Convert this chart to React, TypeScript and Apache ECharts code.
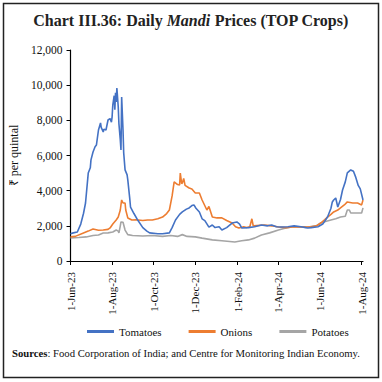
import React, { useEffect, useRef } from "react";
import * as echarts from "echarts";

const startDate = "2023-06-01";
const endDate = "2024-08-03";
const yTicks = [0, 2000, 4000, 6000, 8000, 10000, 12000];

const tomatoes: [string, number][] = [
  ["2023-06-01", 1550], ["2023-06-05", 1600], ["2023-06-11", 1650], ["2023-06-16", 2100],
  ["2023-06-20", 2700], ["2023-06-23", 3300], ["2023-06-27", 5000], ["2023-06-30", 5300],
  ["2023-07-01", 5750], ["2023-07-04", 6200], ["2023-07-07", 6500], ["2023-07-09", 6600],
  ["2023-07-12", 7450], ["2023-07-15", 7850], ["2023-07-16", 7600], ["2023-07-19", 7340],
  ["2023-07-20", 7500], ["2023-07-23", 7450], ["2023-07-26", 8020], ["2023-07-29", 8100],
  ["2023-07-31", 7900], ["2023-08-01", 8200], ["2023-08-02", 8870], ["2023-08-04", 9400],
  ["2023-08-05", 8600], ["2023-08-06", 9560], ["2023-08-07", 9050], ["2023-08-08", 9840],
  ["2023-08-10", 8760], ["2023-08-11", 7800], ["2023-08-13", 6880], ["2023-08-14", 6320],
  ["2023-08-15", 9330], ["2023-08-17", 7450], ["2023-08-18", 6150], ["2023-08-20", 5180],
  ["2023-08-23", 4900], ["2023-08-24", 4610], ["2023-08-27", 3500], ["2023-08-28", 3070],
  ["2023-09-02", 2700], ["2023-09-08", 2300], ["2023-09-15", 1900], ["2023-09-21", 1700],
  ["2023-09-25", 1600], ["2023-10-07", 1550], ["2023-10-14", 1550], ["2023-10-24", 1600],
  ["2023-10-28", 1900], ["2023-11-02", 2330], ["2023-11-08", 2650], ["2023-11-12", 2790],
  ["2023-11-18", 2950], ["2023-11-22", 3020], ["2023-11-26", 3150], ["2023-11-29", 3190],
  ["2023-12-02", 3000], ["2023-12-07", 2790], ["2023-12-11", 2400], ["2023-12-15", 2300],
  ["2023-12-21", 1930], ["2023-12-26", 2050], ["2023-12-30", 1900], ["2024-01-05", 1950],
  ["2024-01-09", 1760], ["2024-01-16", 1900], ["2024-01-24", 2160], ["2024-01-31", 2220],
  ["2024-02-04", 2100], ["2024-02-07", 1880], ["2024-02-17", 1900], ["2024-02-26", 1950],
  ["2024-03-07", 2050], ["2024-03-16", 2000], ["2024-03-22", 2050], ["2024-03-29", 1950],
  ["2024-04-05", 1930], ["2024-04-15", 1950], ["2024-04-24", 2000], ["2024-05-04", 1950],
  ["2024-05-11", 1900], ["2024-05-14", 1880], ["2024-05-19", 1900], ["2024-05-29", 1950],
  ["2024-06-05", 2100], ["2024-06-12", 2500], ["2024-06-17", 3000], ["2024-06-19", 3360],
  ["2024-06-21", 3470], ["2024-06-24", 3580], ["2024-06-27", 3070], ["2024-07-01", 3500],
  ["2024-07-04", 4040], ["2024-07-08", 4500], ["2024-07-11", 5010], ["2024-07-16", 5180],
  ["2024-07-20", 5100], ["2024-07-23", 4800], ["2024-07-27", 4300], ["2024-07-30", 4100],
  ["2024-08-03", 3470],
];

const onions: [string, number][] = [
  ["2023-06-01", 1370], ["2023-06-08", 1400], ["2023-06-20", 1590], ["2023-06-27", 1700],
  ["2023-07-04", 1820], ["2023-07-12", 1750], ["2023-07-19", 1760], ["2023-07-26", 1800],
  ["2023-07-29", 1880], ["2023-08-02", 2100], ["2023-08-07", 2330], ["2023-08-10", 2500],
  ["2023-08-13", 2900], ["2023-08-14", 3200], ["2023-08-15", 3470], ["2023-08-17", 3300],
  ["2023-08-20", 3300], ["2023-08-21", 2900], ["2023-08-24", 2450], ["2023-08-30", 2330],
  ["2023-09-05", 2350], ["2023-09-15", 2300], ["2023-09-22", 2330], ["2023-09-29", 2330],
  ["2023-10-07", 2400], ["2023-10-14", 2500], ["2023-10-20", 2700], ["2023-10-24", 2900],
  ["2023-10-28", 3700], ["2023-10-31", 4500], ["2023-11-05", 4350], ["2023-11-08", 4320],
  ["2023-11-09", 5000], ["2023-11-11", 4400], ["2023-11-12", 4440], ["2023-11-14", 4700],
  ["2023-11-16", 4300], ["2023-11-22", 4150], ["2023-11-26", 4100], ["2023-12-01", 3870],
  ["2023-12-07", 3870], ["2023-12-11", 3470], ["2023-12-18", 2900], ["2023-12-21", 3100],
  ["2023-12-26", 2500], ["2024-01-02", 2450], ["2024-01-09", 2450], ["2024-01-16", 2300],
  ["2024-01-24", 2160], ["2024-01-29", 1950], ["2024-02-03", 1880], ["2024-02-10", 1950],
  ["2024-02-14", 1900], ["2024-02-19", 1950], ["2024-02-22", 2400], ["2024-02-24", 2000],
  ["2024-03-11", 2050], ["2024-03-22", 2000], ["2024-04-01", 1930], ["2024-04-12", 1900],
  ["2024-04-24", 1950], ["2024-05-04", 1930], ["2024-05-19", 1950], ["2024-05-27", 2000],
  ["2024-06-02", 2160], ["2024-06-08", 2350], ["2024-06-12", 2500], ["2024-06-17", 2650],
  ["2024-06-21", 2790], ["2024-06-27", 2900], ["2024-07-01", 3020], ["2024-07-07", 3200],
  ["2024-07-11", 3360], ["2024-07-19", 3300], ["2024-07-26", 3300], ["2024-08-01", 3190],
  ["2024-08-03", 3470],
];

const potatoes: [string, number][] = [
  ["2023-06-01", 1310], ["2023-06-13", 1340], ["2023-06-24", 1370], ["2023-07-04", 1450],
  ["2023-07-12", 1480], ["2023-07-19", 1590], ["2023-07-26", 1600], ["2023-08-02", 1650],
  ["2023-08-07", 1760], ["2023-08-10", 1700], ["2023-08-11", 1600], ["2023-08-13", 2000],
  ["2023-08-14", 2220], ["2023-08-17", 2200], ["2023-08-20", 1760], ["2023-08-24", 1500],
  ["2023-08-31", 1450], ["2023-09-15", 1420], ["2023-09-29", 1450], ["2023-10-14", 1400],
  ["2023-10-26", 1450], ["2023-11-05", 1400], ["2023-11-12", 1500], ["2023-11-19", 1400],
  ["2023-12-01", 1370], ["2023-12-11", 1300], ["2023-12-26", 1200], ["2024-01-09", 1150],
  ["2024-01-28", 1080], ["2024-02-07", 1150], ["2024-02-17", 1200], ["2024-02-26", 1300],
  ["2024-03-07", 1480], ["2024-03-19", 1600], ["2024-04-01", 1760], ["2024-04-09", 1850],
  ["2024-04-20", 1930], ["2024-05-04", 1950], ["2024-05-14", 1930], ["2024-05-26", 2000],
  ["2024-06-02", 2160], ["2024-06-09", 2250], ["2024-06-17", 2330], ["2024-06-24", 2400],
  ["2024-07-01", 2500], ["2024-07-08", 2550], ["2024-07-11", 2900], ["2024-07-14", 2900],
  ["2024-07-16", 2730], ["2024-07-23", 2730], ["2024-08-01", 2730], ["2024-08-03", 3020],
];

const seriesNames = ["Tomatoes", "Onions", "Potatoes"];
const colors = ["#4472C4", "#ED7D31", "#A5A5A5"];
const monthNames = ["Jan", "Feb", "Mar", "Apr", "May", "Jun", "Jul", "Aug", "Sep", "Oct", "Nov", "Dec"];

function buildDays(): string[] {
  const out: string[] = [];
  const d = new Date(startDate + "T00:00:00Z");
  const end = new Date(endDate + "T00:00:00Z");
  while (d.getTime() <= end.getTime()) {
    out.push(d.toISOString().slice(0, 10));
    d.setUTCDate(d.getUTCDate() + 1);
  }
  return out;
}

function fmtDate(s: string): string {
  const [y, m, d] = s.split("-");
  return `${parseInt(d, 10)}-${monthNames[parseInt(m, 10) - 1]}-${y.slice(2)}`;
}

function isTick(s: string): boolean {
  const [, m, d] = s.split("-");
  return d === "01" && (parseInt(m, 10) - 1) % 2 === 1;
}

const FONT = "'Liberation Serif', 'Times New Roman', serif";

export default function App() {
  const ref = useRef<HTMLDivElement>(null);
  useEffect(() => {
    if (!ref.current) return;
    const chart = echarts.init(ref.current, undefined, { renderer: "svg" });
    const days = buildDays();
    const data = [tomatoes, onions, potatoes];
    chart.setOption({
      animation: false,
      backgroundColor: "#ffffff",
      textStyle: { fontFamily: FONT },
      grid: { left: 67, right: 19, top: 50, bottom: 121, containLabel: false },
      xAxis: {
        type: "category",
        data: days,
        boundaryGap: false,
        axisLine: { lineStyle: { color: "#000", width: 1.2 } },
        axisTick: { show: true, interval: (i: number, v: string) => isTick(v), length: 4, lineStyle: { color: "#000" } },
        axisLabel: {
          interval: (i: number, v: string) => isTick(v),
          formatter: (v: string) => fmtDate(v),
          rotate: 90,
          fontSize: 11,
          color: "#111",
          fontFamily: FONT,
          margin: 11,
        },
        splitLine: { show: false },
      },
      yAxis: {
        type: "value",
        min: yTicks[0],
        max: yTicks[yTicks.length - 1],
        interval: 2000,
        name: "₹ per quintal",
        nameLocation: "middle",
        nameGap: 43,
        nameTextStyle: { fontSize: 12, color: "#111", fontFamily: FONT },
        axisLine: { show: true, lineStyle: { color: "#000", width: 1.2 } },
        axisTick: { show: true, length: 4, lineStyle: { color: "#000" } },
        axisLabel: {
          fontSize: 11.5,
          color: "#111",
          fontFamily: FONT,
          margin: 8,
          formatter: (v: number) => v.toLocaleString("en-US"),
        },
        splitLine: { show: false },
      },
      legend: {
        top: 321,
        left: 82,
        itemWidth: 27,
        itemHeight: 3,
        itemGap: 27,
        icon: "rect",
        textStyle: { fontSize: 11, color: "#111", fontFamily: FONT },
        data: seriesNames,
      },
      series: seriesNames.map((n, i) => ({
        name: n,
        type: "line",
        data: data[i],
        showSymbol: false,
        symbol: "none",
        lineStyle: { width: 1.6, color: colors[i] },
        itemStyle: { color: colors[i] },
        z: 3 - i,
      })),
      graphic: [
        {
          type: "rect",
          shape: { x: 3.5, y: 3.5, width: 375, height: 374 },
          style: { fill: "none", stroke: "#222", lineWidth: 1.5 },
          silent: true,
        },
        {
          type: "text",
          x: 191,
          y: 20,
          style: {
            text: "{b|Chart III.36: Daily }{i|Mandi}{b| Prices (TOP Crops)}",
            align: "center",
            verticalAlign: "middle",
            rich: {
              b: { fontSize: 16, fontWeight: "bold", fontFamily: FONT, fill: "#222" },
              i: { fontSize: 16, fontWeight: "bold", fontStyle: "italic", fontFamily: FONT, fill: "#222" },
            },
          },
        },
        {
          type: "text",
          x: 12,
          y: 353,
          style: {
            text: "{b|Sources}{n|: Food Corporation of India; and Centre for Monitoring Indian Economy.}",
            align: "left",
            verticalAlign: "middle",
            rich: {
              b: { fontSize: 10.7, fontWeight: "bold", fontFamily: FONT, fill: "#111" },
              n: { fontSize: 10.7, fontFamily: FONT, fill: "#111" },
            },
          },
        },
      ],
    });
    return () => chart.dispose();
  }, []);
  return <div ref={ref} style={{ position: "fixed", left: 0, top: 0, width: 382, height: 382 }} />;
}
